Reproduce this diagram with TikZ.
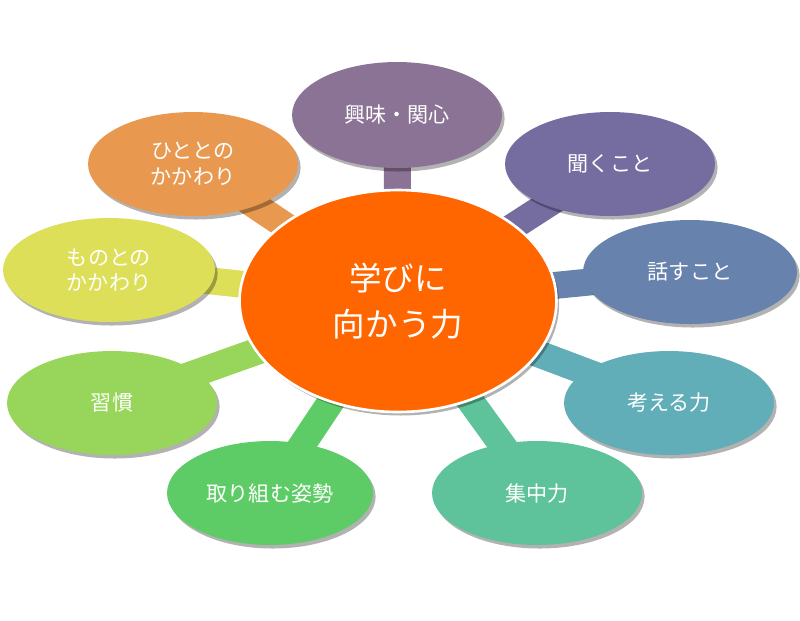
\documentclass[tikz,border=0pt]{standalone}
\usepackage{fontspec}
\setmainfont{Noto Sans CJK JP}
\usetikzlibrary{shapes.geometric,shadows,backgrounds}
\definecolor{kyomicol}{RGB}{139,115,150}
\definecolor{kikucol}{RGB}{117,108,160}
\definecolor{hanasucol}{RGB}{102,130,173}
\definecolor{kangaerucol}{RGB}{98,174,184}
\definecolor{shuchucol}{RGB}{94,195,154}
\definecolor{torikumicol}{RGB}{94,204,102}
\definecolor{shukancol}{RGB}{151,214,90}
\definecolor{monocol}{RGB}{221,223,88}
\definecolor{hitocol}{RGB}{232,153,79}
\definecolor{corecol}{RGB}{255,102,0}
\begin{document}
\begin{tikzpicture}[x=0.02cm, y=-0.02cm,
    bubble/.style={ellipse, fill=#1, inner sep=0pt, minimum width=4.2cm, minimum height=2.08cm,
        text=white, align=center, font=\fontsize{12}{14.5}\selectfont,
        drop shadow={shadow xshift=1.5pt, shadow yshift=-2pt, opacity=0.3, fill=black}},
    link/.style={line width=0.54cm, draw=#1}]
    \useasboundingbox (0,0) rectangle (800,620);
    %\draw[gray, dashed] (0,0) grid[step=50] (800,620);

    \node[ellipse, fill=corecol, draw=white, line width=1.5pt, minimum width=6.34cm, minimum height=4.44cm,
        text=white, align=center, font=\fontsize{18.5}{26}\selectfont,
        drop shadow={shadow xshift=1.5pt, shadow yshift=-2pt, opacity=0.3, fill=black}] (core) at (398,301) {学びに\\向かう力};

    \node[bubble=kyomicol, minimum width=4.2cm, minimum height=2.12cm] (kyomi) at (397,115) {興味・関心};
    \node[bubble=kikucol] (kiku) at (610,164) {聞くこと};
    \node[bubble=hanasucol, minimum width=4.28cm] (hanasu) at (690,272) {話すこと};
    \node[bubble=kangaerucol] (kangaeru) at (669,403) {考える力};
    \node[bubble=shuchucol] (shuchu) at (537,493) {集中力};
    \node[bubble=torikumicol, minimum width=4.12cm] (torikumi) at (270,493) {取り組む姿勢};
    \node[bubble=shukancol] (shukan) at (112,403) {習慣};
    \node[bubble=monocol, minimum width=4.24cm] (mono) at (109,270) {ものとの\\かかわり};
    \node[bubble=hitocol] (hito) at (193,164) {ひととの\\かかわり};

    \begin{scope}[on background layer]
        \draw[link=kyomicol] (core.center) -- (kyomi.center);
        \draw[link=kikucol] (core.center) -- (kiku.center);
        \draw[link=hanasucol] (core.center) -- (hanasu.center);
        \draw[link=kangaerucol] (core.center) -- (kangaeru.center);
        \draw[link=shuchucol] (core.center) -- (shuchu.center);
        \draw[link=torikumicol] (core.center) -- (torikumi.center);
        \draw[link=shukancol] (core.center) -- (shukan.center);
        \draw[link=monocol] (core.center) -- (mono.center);
        \draw[link=hitocol] (core.center) -- (hito.center);
    \end{scope}
\end{tikzpicture}
\end{document}
